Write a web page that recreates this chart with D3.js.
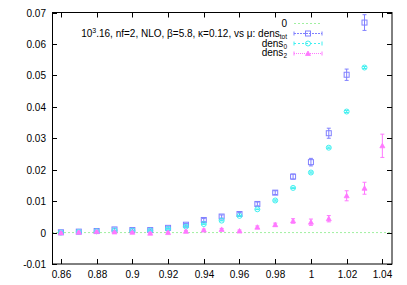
<!DOCTYPE html>
<html>
<head>
<meta charset="utf-8">
<script src="https://cdn.jsdelivr.net/npm/d3@7"></script>
<style>
  body { margin: 0; background: #fff; }
  text { font-family: "Liberation Sans", Arial, sans-serif; font-size: 10px; fill: #000; }
</style>
</head>
<body>
<svg id="chart" width="407" height="285"></svg>
<script>
// mu values
var mu = [0.86, 0.87, 0.88, 0.89, 0.90, 0.91, 0.92, 0.93, 0.94, 0.95,
          0.96, 0.97, 0.98, 0.99, 1.00, 1.01, 1.02, 1.03, 1.04];

var densTot = [0.0001, 0.0003, 0.0005, 0.0010, 0.0008, 0.0008, 0.0015, 0.0025, 0.0040, 0.0051,
               0.0059, 0.0091, 0.0127, 0.0178, 0.0224, 0.0316, 0.0502, 0.0668, null];
var densTotErr = [0.0002, 0.0002, 0.0003, 0.0004, 0.0004, 0.0003, 0.0003, 0.0004, 0.0005, 0.0005,
                  0.0005, 0.0006, 0.0006, 0.0008, 0.0012, 0.0016, 0.0018, 0.0025, null];

var dens0 = [0.0000, 0.0002, 0.0004, 0.0007, 0.0006, 0.0006, 0.0012, 0.0019, 0.0027, 0.0038,
             0.0053, 0.0074, 0.0102, 0.0142, 0.0191, 0.0270, 0.0385, 0.0525, null];
var dens0Err = [0.0001, 0.0001, 0.0001, 0.0001, 0.0001, 0.0001, 0.0001, 0.0001, 0.0001, 0.0001,
                0.0001, 0.0001, 0.0002, 0.0002, 0.0002, 0.0002, 0.0003, 0.0003, null];

var dens2 = [-0.0001, 0.0001, 0.0003, 0.0002, 0.0001, -0.0002, 0.0000, 0.0004, 0.0008, 0.0010,
             0.0005, 0.0017, 0.0025, 0.0037, 0.0033, 0.0044, 0.0117, 0.0141, 0.0276];
var dens2Err = [0.0002, 0.0002, 0.0002, 0.0002, 0.0002, 0.0002, 0.0002, 0.0003, 0.0003, 0.0003,
                0.0003, 0.0004, 0.0005, 0.0007, 0.0010, 0.0010, 0.0016, 0.0019, 0.0037];

var xTicks = [0.86, 0.88, 0.9, 0.92, 0.94, 0.96, 0.98, 1, 1.02, 1.04];
var yTicks = [-0.01, 0, 0.01, 0.02, 0.03, 0.04, 0.05, 0.06, 0.07];

var svg = d3.select("#chart");
var pl = 52, pr = 392, pt = 12.5, pb = 264;

var x = d3.scaleLinear().domain([0.855, 1.0454]).range([pl, pr]);
var y = d3.scaleLinear().domain([-0.01, 0.07]).range([pb, pt]);

var fmt = function(d) { return String(+d.toFixed(2)); };

// ticks on all four sides, labels on left/bottom
var ticks = svg.append("g").attr("stroke", "#000").attr("stroke-width", 1);
yTicks.forEach(function(t) {
  var yy = Math.round(y(t)) + 0.5;
  ticks.append("line").attr("x1", pl).attr("x2", pl + 5).attr("y1", yy).attr("y2", yy);
  ticks.append("line").attr("x1", pr - 5).attr("x2", pr).attr("y1", yy).attr("y2", yy);
  svg.append("text").attr("x", pl - 6).attr("y", yy + 3.5)
    .attr("text-anchor", "end").text(t === 0 ? "0" : fmt(t));
});
xTicks.forEach(function(t) {
  var xx = Math.round(x(t)) + 0.5;
  ticks.append("line").attr("x1", xx).attr("x2", xx).attr("y1", pb).attr("y2", pb - 5);
  ticks.append("line").attr("x1", xx).attr("x2", xx).attr("y1", pt).attr("y2", pt + 5);
  svg.append("text").attr("x", xx).attr("y", pb + 14)
    .attr("text-anchor", "middle").text(fmt(t));
});

// zero line
svg.append("line")
  .attr("x1", pl).attr("x2", pr)
  .attr("y1", y(0)).attr("y2", y(0))
  .attr("stroke", "#a0f0a0").attr("stroke-width", 1)
  .attr("stroke-dasharray", "2,2");

var series = [
  { vals: densTot, errs: densTotErr, color: "#8080ff", marker: "square" },
  { vals: dens0, errs: dens0Err, color: "#40f0f0", marker: "circle" },
  { vals: dens2, errs: dens2Err, color: "#ff78ff", marker: "triangle" }
];

function drawMarker(g, kind, cx, cy, color) {
  if (kind === "square") {
    g.append("rect").attr("x", cx - 2.5).attr("y", cy - 2.5).attr("width", 5).attr("height", 5)
      .attr("fill", "none").attr("stroke", color).attr("stroke-width", 1);
  } else if (kind === "circle") {
    g.append("circle").attr("cx", cx).attr("cy", cy).attr("r", 2.5)
      .attr("fill", "none").attr("stroke", color).attr("stroke-width", 1);
  } else {
    g.append("path")
      .attr("d", "M" + cx + "," + (cy - 2.5) + "L" + (cx + 2.5) + "," + (cy + 2) + "L" + (cx - 2.5) + "," + (cy + 2) + "Z")
      .attr("fill", color).attr("stroke", color).attr("stroke-width", 0.8);
  }
}

series.forEach(function(s) {
  var g = svg.append("g");
  mu.forEach(function(m, i) {
    var v = s.vals[i];
    if (v === null) return;
    var cx = x(m), e = s.errs[i];
    var y1 = y(v + e), y2 = y(v - e);
    g.append("line").attr("x1", cx).attr("x2", cx).attr("y1", y1).attr("y2", y2)
      .attr("stroke", s.color).attr("stroke-width", 1);
    g.append("line").attr("x1", cx - 2).attr("x2", cx + 2).attr("y1", y1).attr("y2", y1)
      .attr("stroke", s.color);
    g.append("line").attr("x1", cx - 2).attr("x2", cx + 2).attr("y1", y2).attr("y2", y2)
      .attr("stroke", s.color);
    drawMarker(g, s.marker, cx, y(v), s.color);
  });
});

// frame
svg.append("rect").attr("x", pl + 0.5).attr("y", pt).attr("width", pr - pl - 0.5)
  .attr("height", pb - pt).attr("fill", "none").attr("stroke", "#000").attr("stroke-width", 1);

// legend
var lx1 = 294, lx2 = 322, ltx = 287;
var legendRows = [
  { y: 23.5, color: "#a0f0a0", marker: null, dash: "2,2" },
  { y: 33.5, color: "#8080ff", marker: "square", dash: "2,1" },
  { y: 43.5, color: "#40f0f0", marker: "circle", dash: "2,2" },
  { y: 53.5, color: "#ff78ff", marker: "triangle", dash: "1,1" }
];
legendRows.forEach(function(r) {
  var g = svg.append("g");
  g.append("line").attr("x1", lx1).attr("x2", lx2).attr("y1", r.y).attr("y2", r.y)
    .attr("stroke", r.color).attr("stroke-dasharray", r.dash);
  if (r.marker) {
    g.append("line").attr("x1", lx1).attr("x2", lx1).attr("y1", r.y - 2).attr("y2", r.y + 2).attr("stroke", r.color);
    g.append("line").attr("x1", lx2).attr("x2", lx2).attr("y1", r.y - 2).attr("y2", r.y + 2).attr("stroke", r.color);
    drawMarker(g, r.marker, (lx1 + lx2) / 2, r.y, r.color);
  }
});

svg.append("text").attr("x", ltx).attr("y", 27).attr("text-anchor", "end").text("0");

var t1 = svg.append("text").attr("x", ltx).attr("y", 36.5).attr("text-anchor", "end");
t1.append("tspan").text("10");
t1.append("tspan").attr("dy", -4).attr("font-size", "7px").text("3");
t1.append("tspan").attr("dy", 4).text(".16, nf=2, NLO, \u03b2=5.8, \u03ba=0.12, vs \u03bc: dens");
t1.append("tspan").attr("dy", 2).attr("font-size", "6.5px").text("tot");

var t2 = svg.append("text").attr("x", ltx).attr("y", 46.5).attr("text-anchor", "end");
t2.append("tspan").text("dens");
t2.append("tspan").attr("dy", 2).attr("font-size", "6.5px").text("0");

var t3 = svg.append("text").attr("x", ltx).attr("y", 56).attr("text-anchor", "end");
t3.append("tspan").text("dens");
t3.append("tspan").attr("dy", 2).attr("font-size", "6.5px").text("2");
</script>
</body>
</html>
